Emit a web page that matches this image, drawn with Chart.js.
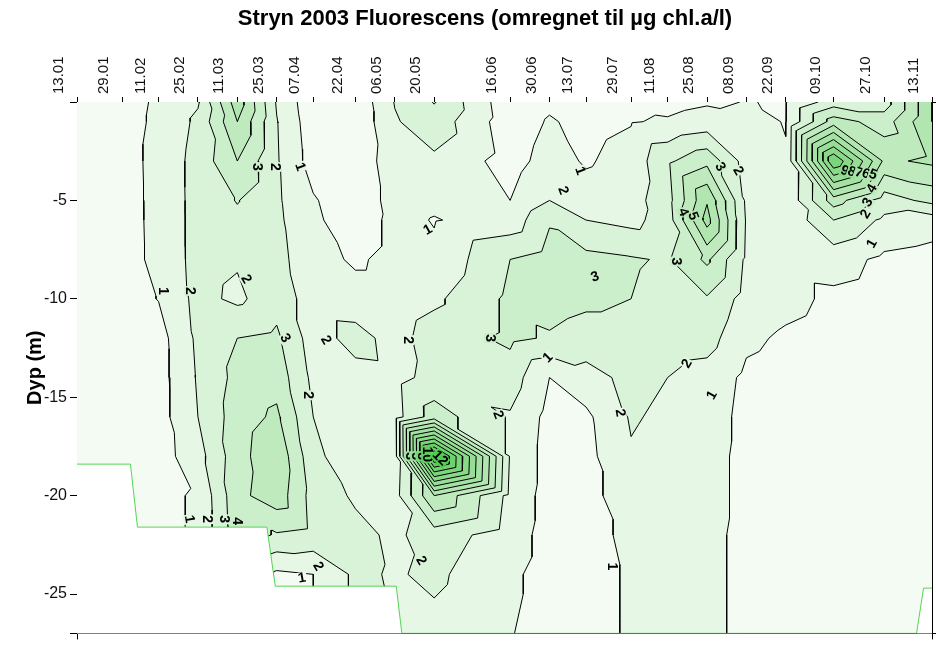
<!DOCTYPE html>
<html><head><meta charset="utf-8">
<script src="https://cdn.jsdelivr.net/npm/chart.js@4.4.1/dist/chart.umd.min.js"></script>
<style>html,body{margin:0;padding:0;background:#fff}</style>
</head><body>
<canvas id="c" width="936" height="646"></canvas>
<script>
// ---- data ----
const titleText = 'Stryn 2003 Fluorescens (omregnet til µg chl.a/l)';
const yTitle = 'Dyp (m)';
const dateLabels = ['13.01','29.01','11.02','25.02','11.03','25.03','07.04','22.04','06.05','20.05','16.06','30.06','13.07','29.07','11.08','25.08','08.09','22.09','09.10','27.10','13.11'];
const dayOfYear  = [13,29,42,56,70,84,97,112,126,140,167,181,194,210,223,237,251,265,282,300,317];
const depths     = [0,1,3,5,6,8,10,12,14,16,18,20,22,24,27];
const yTicks     = [-27,-25,-20,-15,-10,-5,0];
// one profile per sampling date, values at depths[] (µg chl.a/l)
const profiles = [
  [0.5,0.5,0.5,0.5,0.5,0.5,0.5,0.5,0.5,0.5,0.5,0.5,0.5,0.5,0.5],
  [0.6,0.6,0.6,0.6,0.6,0.6,0.6,0.6,0.6,0.6,0.6,0.6,0.6,0.6,0.6],
  [1.15,1.2,1.3,1.28,1.27,1.25,1.03,0.6,0.6,0.6,0.55,0.79,0.8,0.8,0.8],
  [1.9,2.2,2.35,2.35,2.35,2.35,2.3,2.2,2.1,2.0,1.6,1.1,1.1,1.0,1.0],
  [5.6,5.0,4.0,3.05,2.8,2.1,1.8,3.0,3.3,3.5,3.6,3.7,3.6,3.0,3.0],
  [1.9,2.05,2.1,2.15,2.2,2.3,2.6,3.2,3.6,4.2,4.8,4.6,2.9,0.8,0.8],
  [0.3,0.4,0.55,1.1,1.2,1.4,1.5,1.5,1.75,2.0,2.3,2.6,2.7,1.0,1.0],
  [0.2,0.2,0.3,0.3,0.4,0.85,1.4,2.4,1.6,1.4,1.24,1.85,2.3,2.2,2.2],
  [2.05,1.9,1.6,1.4,1.3,1.3,1.4,1.6,1.7,1.6,1.5,1.6,1.8,1.9,2.0],
  [3.05,2.6,1.8,1.2,0.95,1.2,1.8,2.5,2.3,3.5,13.3,5.0,2.5,2.2,1.7],
  [0.3,0.4,0.6,1.0,1.4,3.0,3.2,3.2,2.5,1.9,1.9,1.7,1.5,1.2,1.05],
  [0.8,1.1,1.4,2.0,2.9,3.4,3.4,2.9,1.0,0.7,0.6,0.6,0.6,0.6,0.6],
  [0.6,0.7,0.9,1.4,2.0,3.3,3.2,2.6,1.6,0.8,0.7,0.7,0.7,0.7,0.7],
  [0.8,0.95,1.36,1.6,1.71,3.1,3.0,2.6,2.3,2.1,1.9,1.5,1.2,1.1,1.1],
  [0.7,1.1,2.83,2.6,2.47,2.9,2.7,2.5,2.0,1.8,1.6,1.5,1.4,1.3,1.3],
  [0.9,1.4,3.72,5.9,6.4,4.2,2.9,2.4,1.6,1.5,1.4,1.4,1.3,1.3,1.3],
  [1.02,1.2,1.55,1.8,1.9,1.8,1.6,1.2,0.8,0.7,0.7,0.7,0.7,0.7,0.7],
  [0.95,0.97,1.05,1.1,1.2,1.3,1.3,0.85,0.6,0.5,0.5,0.5,0.5,0.5,0.5],
  [2.5,4.5,10.0,4.5,3.0,1.4,0.8,0.6,0.5,0.5,0.5,0.5,0.5,0.5,0.5],
  [2.5,3.5,4.8,2.5,1.8,0.8,0.6,0.5,0.5,0.5,0.5,0.5,0.5,0.5,0.5],
  [6.0,6.0,5.2,3.3,1.5,0.6,0.5,0.5,0.5,0.5,0.5,0.5,0.5,0.5,0.5]
];
const levels = [1,2,3,4,5,6,7,8,9,10,11,12,13];
// bottom (no data below this line)
const bottomDays   = [13,32,34.5,80.5,83.5,126.5,128.5,311.5,314,317];
const bottomDepths = [18.4,18.4,21.6,21.6,24.6,24.6,27,27,24.7,24.7];
// contour labels
const labelDays   = [43.6,53.2,77,83.4,92.3,73.1,87,101.5,95.1,137.8,130.7,159.8,162.7,180.5,185.8,191.8,197.2,206.1,203.2,135.3,241.6,248,228.5,232,226,229.9,238.8,295.7,293.5,294.2,295.7,286,288.5,291,293.5,296,52.9,59.3,65.3,70,98.7,93,131.5,133.5,135.5,137.5,142.1];
const labelDepths = [9.6,9.6,3.3,3.3,3.3,9.0,12.0,12.1,14.9,6.5,12.1,12.0,15.9,13.0,4.5,3.5,8.9,15.8,23.6,23.3,3.3,3.5,5.6,5.8,8.1,13.3,14.9,7.2,5.7,5.1,4.4,3.5,3.55,3.6,3.65,3.7,21.2,21.2,21.2,21.3,23.6,24.2,18.0,18.0,18.0,17.9,18.1];
const labelTexts  = ['1','2','3','2','1','2','3','2','2','1','2','3','2','1','2','1','3','2','1','2','3','2','4','5','3','2','1','1','2','3','4','9','8','7','6','5','1','2','3','4','2','1','3','5','8','10','12'];
const labelAngles = [90,90,90,90,70,60,60,60,90,-30,90,90,70,-45,70,70,-20,80,90,60,60,60,70,70,90,-60,-60,-60,-60,-60,-60,20,20,20,20,20,80,90,90,90,60,-10,90,90,90,90,45];

// ---- interpolation helpers ----
function locate(arr, v){ let i=0; while(i<arr.length-2 && v>arr[i+1]) i++; return i; }
function valueAt(day, depth){
  const i = locate(dayOfYear, day), j = locate(depths, depth);
  const u = Math.min(1,Math.max(0,(day-dayOfYear[i])/(dayOfYear[i+1]-dayOfYear[i])));
  const t = Math.min(1,Math.max(0,(depth-depths[j])/(depths[j+1]-depths[j])));
  const v00=profiles[i][j], v10=profiles[i+1][j], v01=profiles[i][j+1], v11=profiles[i+1][j+1];
  if (u>=t) return v00 + u*(v10-v00) + t*(v11-v10);
  return v00 + t*(v01-v00) + u*(v11-v01);
}
function bandColor(v){
  let k=0; for(const L of levels){ if(v>=L) k++; }
  const r = Math.round(243 - 13.3*k), g = Math.round(251 - 4.2*k);
  return [r,g,r];
}
// contour segments from triangulated grid
function contourData(){
  const out=[];
  const tri=(P)=>{
    for(const L of levels){
      const pts=[];
      for(let e=0;e<3;e++){
        const a=P[e], b=P[(e+1)%3];
        const va=a[2]-L+1e-9, vb=b[2]-L+1e-9;
        if((va<0)!==(vb<0)){
          const f=va/(va-vb);
          pts.push({x:a[0]+f*(b[0]-a[0]), y:-(a[1]+f*(b[1]-a[1]))});
        }
      }
      if(pts.length===2){ out.push(pts[0],pts[1],{x:null,y:null}); }
    }
  };
  for(let i=0;i<dayOfYear.length-1;i++){
    for(let j=0;j<depths.length-1;j++){
      const p00=[dayOfYear[i],depths[j],profiles[i][j]];
      const p10=[dayOfYear[i+1],depths[j],profiles[i+1][j]];
      const p01=[dayOfYear[i],depths[j+1],profiles[i][j+1]];
      const p11=[dayOfYear[i+1],depths[j+1],profiles[i+1][j+1]];
      tri([p00,p10,p11]); tri([p00,p11,p01]);
    }
  }
  return out;
}

const FONT='"Liberation Sans", Arial, sans-serif';

const fillPlugin = {
  id:'fill',
  beforeDatasetsDraw(chart){
    const a=chart.chartArea, xs=chart.scales.x, ys=chart.scales.y, ctx=chart.ctx;
    const w=Math.round(a.right-a.left), h=Math.round(a.bottom-a.top);
    const off=document.createElement('canvas'); off.width=w; off.height=h;
    const o=off.getContext('2d'); const img=o.createImageData(w,h);
    for(let py=0;py<h;py++){
      const depth=-ys.getValueForPixel(a.top+py+0.5);
      for(let px=0;px<w;px++){
        const day=xs.getValueForPixel(a.left+px+0.5);
        const c=bandColor(valueAt(day,depth));
        const k=(py*w+px)*4; img.data[k]=c[0]; img.data[k+1]=c[1]; img.data[k+2]=c[2]; img.data[k+3]=255;
      }
    }
    o.putImageData(img,0,0);
    ctx.drawImage(off,a.left,a.top);
  },
  afterDatasetsDraw(chart){
    const a=chart.chartArea, xs=chart.scales.x, ys=chart.scales.y, ctx=chart.ctx;
    ctx.save();
    ctx.beginPath(); ctx.rect(a.left,a.top,a.right-a.left,a.bottom-a.top); ctx.clip();
    // blank area below bottom
    ctx.beginPath();
    ctx.moveTo(xs.getPixelForValue(bottomDays[0]), ys.getPixelForValue(-bottomDepths[0]));
    for(let i=1;i<bottomDays.length;i++) ctx.lineTo(xs.getPixelForValue(bottomDays[i]), ys.getPixelForValue(-bottomDepths[i]));
    ctx.lineTo(a.right+2,a.bottom+2); ctx.lineTo(a.left-2,a.bottom+2); ctx.closePath();
    ctx.fillStyle='#fff'; ctx.fill();
    ctx.beginPath();
    ctx.moveTo(xs.getPixelForValue(bottomDays[0]), ys.getPixelForValue(-bottomDepths[0]));
    for(let i=1;i<bottomDays.length;i++) ctx.lineTo(xs.getPixelForValue(bottomDays[i]), ys.getPixelForValue(-bottomDepths[i]));
    ctx.strokeStyle='#55d455'; ctx.lineWidth=1; ctx.stroke();
    // contour labels
    ctx.font='bold 14px '+FONT; ctx.textAlign='center'; ctx.textBaseline='middle';
    for(let i=0;i<labelTexts.length;i++){
      const x=xs.getPixelForValue(labelDays[i]), y=ys.getPixelForValue(-labelDepths[i]);
      const c=bandColor(valueAt(labelDays[i],labelDepths[i]));
      ctx.save(); ctx.translate(x,y); ctx.rotate(labelAngles[i]*Math.PI/180);
      const tw=ctx.measureText(labelTexts[i]).width;
      ctx.fillStyle='rgb('+c.join(',')+')'; ctx.fillRect(-tw/2-1,-6,tw+2,12);
      ctx.fillStyle='#000'; ctx.fillText(labelTexts[i],0,0);
      ctx.restore();
    }
    ctx.restore();
  },
  afterDraw(chart){
    const ctx=chart.ctx; ctx.save();
    ctx.font='bold 22px '+FONT; ctx.fillStyle='#000'; ctx.textAlign='center'; ctx.textBaseline='middle';
    ctx.fillText(titleText,485,19);
    ctx.restore();
  }
};

new Chart(document.getElementById('c'),{
  type:'scatter',
  data:{datasets:[{
    label:'contours', data:contourData(), showLine:true, spanGaps:false,
    borderColor:'#000', borderWidth:1, pointRadius:0, pointHoverRadius:0, tension:0
  }]},
  options:{
    responsive:false, animation:false, devicePixelRatio:1,
    layout:{padding:0},
    plugins:{legend:{display:false}, tooltip:{enabled:false}, title:{display:false}},
    events:[],
    scales:{
      x:{type:'linear', position:'top', min:13, max:317,
        afterBuildTicks(s){ s.ticks=dayOfYear.map(v=>({value:v})); },
        afterFit(s){ s.height=102; },
        ticks:{autoSkip:false, minRotation:90, maxRotation:90, padding:3, color:'#111',
          font:{family:FONT,size:15},
          callback:(v)=>{ const i=dayOfYear.indexOf(v); return i>=0?dateLabels[i]:''; }},
        grid:{drawOnChartArea:false, drawTicks:true, tickLength:5, color:'#000'},
        border:{display:true, color:'#000', width:1}
      },
      x2:{type:'linear', position:'bottom', min:13, max:317,
        afterBuildTicks(s){ s.ticks=[{value:13},{value:317}]; },
        afterFit(s){ s.height=9; },
        ticks:{display:true, callback:()=>'' , font:{size:1}},
        grid:{drawOnChartArea:false, drawTicks:true, tickLength:6, color:'#000'},
        border:{display:true, color:'#000', width:1}
      },
      y:{type:'linear', position:'left', min:-27, max:0,
        afterBuildTicks(s){ s.ticks=yTicks.map(v=>({value:v})); },
        afterFit(s){ s.width=77; },
        ticks:{autoSkip:false, padding:3, color:'#111', font:{family:FONT,size:16},
          callback:(v)=> (v===0||v===-27)?'':String(v)},
        grid:{drawOnChartArea:false, drawTicks:true, tickLength:7, color:'#000'},
        border:{display:true, color:'#000', width:1},
        title:{display:true, text:yTitle, color:'#000', font:{family:FONT,size:20,weight:'bold'}, padding:{top:23,bottom:0}}
      },
      y2:{type:'linear', position:'right', min:-27, max:0,
        afterBuildTicks(s){ s.ticks=[{value:-27},{value:0}]; },
        afterFit(s){ s.width=4; },
        ticks:{display:true, callback:()=>'', font:{size:1}},
        grid:{drawOnChartArea:false, drawTicks:true, tickLength:4, color:'#000'},
        border:{display:true, color:'#000', width:1}
      }
    }
  },
  plugins:[fillPlugin]
});
</script>
</body></html>
